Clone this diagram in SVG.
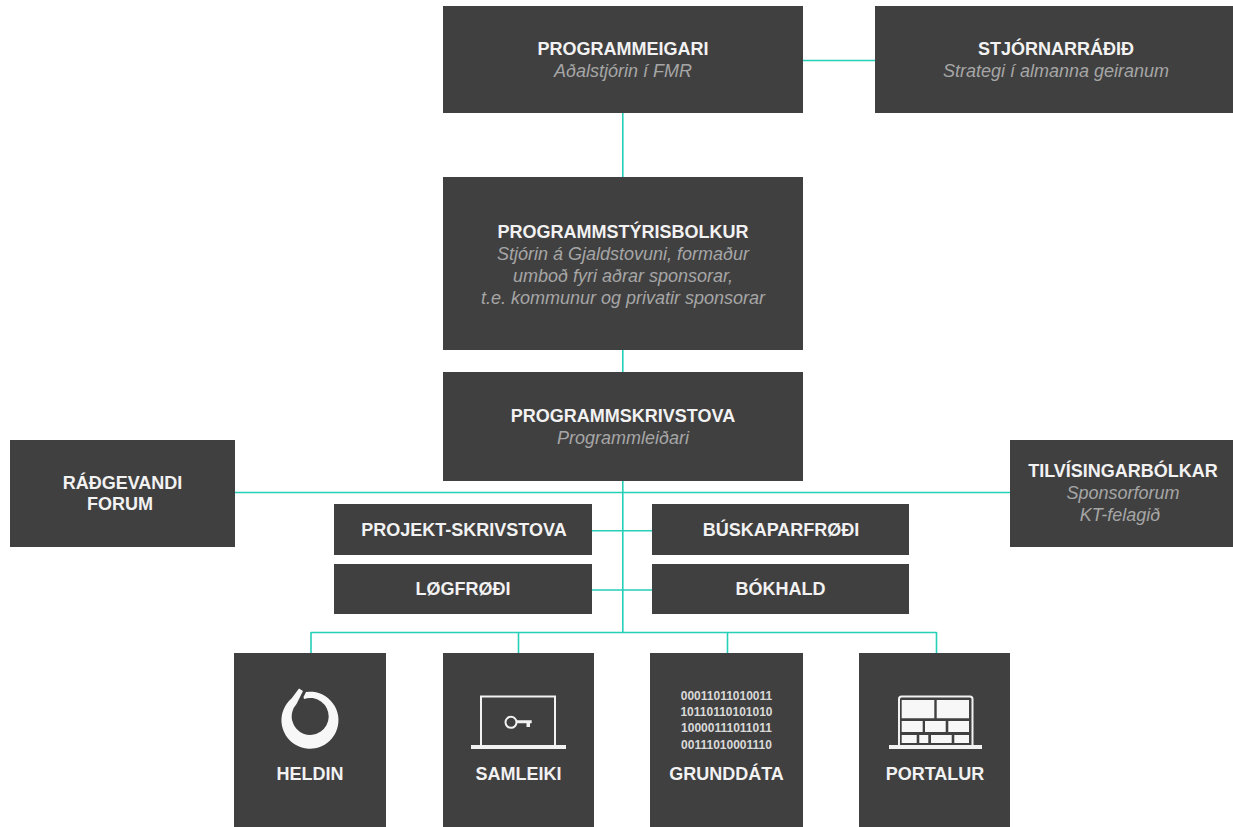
<svg xmlns="http://www.w3.org/2000/svg" width="1233" height="827" viewBox="0 0 1233 827">
<style>
.box{fill:#404040}
.t{font-family:"Liberation Sans",Arial,sans-serif;font-size:18px;font-weight:bold;fill:#f2f2f2;text-anchor:middle}
.s{font-family:"Liberation Sans",Arial,sans-serif;font-size:18px;font-style:italic;fill:#a6a6a6;text-anchor:middle}
.b{font-family:"Liberation Sans",Arial,sans-serif;font-size:12px;font-weight:bold;fill:#d9d9d9;text-anchor:middle}
.c{fill:none;stroke:#25cfb8;stroke-width:1.6}
.i{fill:none;stroke:#f2f2f2;stroke-width:2}
.f{fill:#f2f2f2}
</style>
<rect width="1233" height="827" fill="#fff"/>
<g id="connectors">
<path class="c" d="M803 60.500H875M622.800 113V177M622.800 350V372M622.800 481V632M235 492.500H1010M592 530.800H652M592 590H652M311 632.500H936.500M311 632V653M518.500 632V653M727.500 632V653M936.500 632V653"/>
</g>
<g id="programmeigari"><rect class="box" x="443" y="6" width="360" height="107"/><text class="t" x="623" y="55">PROGRAMMEIGARI</text><text class="s" x="623" y="77">Aðalstjórin í FMR</text></g>
<g id="stjornarradid"><rect class="box" x="875" y="6" width="358" height="107"/><text class="t" x="1056" y="55">STJÓRNARRÁÐIÐ</text><text class="s" x="1056" y="77">Strategi í almanna geiranum</text></g>
<g id="programmstyrisbolkur"><rect class="box" x="443" y="177" width="360" height="173"/><text class="t" x="623" y="238">PROGRAMMSTÝRISBOLKUR</text><text class="s" x="623" y="260">Stjórin á Gjaldstovuni, formaður</text><text class="s" x="623" y="282">umboð fyri aðrar sponsorar,</text><text class="s" x="623" y="304">t.e. kommunur og privatir sponsorar</text></g>
<g id="programmskrivstova"><rect class="box" x="443" y="372" width="360" height="109"/><text class="t" x="623" y="422">PROGRAMMSKRIVSTOVA</text><text class="s" x="623" y="444">Programmleiðari</text></g>
<g id="radgevandi"><rect class="box" x="10" y="440" width="225" height="107"/><text class="t" x="122.500" y="489">RÁÐGEVANDI</text><text class="t" x="120" y="510">FORUM</text></g>
<g id="tilvisingarbolkar"><rect class="box" x="1010" y="440" width="223" height="107"/><text class="t" x="1123" y="477">TILVÍSINGARBÓLKAR</text><text class="s" x="1123" y="499">Sponsorforum</text><text class="s" x="1120" y="521">KT-felagið</text></g>
<g id="projekt"><rect class="box" x="334" y="504" width="258" height="51"/><text class="t" x="464" y="536">PROJEKT-SKRIVSTOVA</text></g>
<g id="buskapar"><rect class="box" x="652" y="504" width="257" height="51"/><text class="t" x="781" y="536">BÚSKAPARFRØÐI</text></g>
<g id="logfrodi"><rect class="box" x="334" y="564" width="258" height="50"/><text class="t" x="463" y="595">LØGFRØÐI</text></g>
<g id="bokhald"><rect class="box" x="652" y="564" width="257" height="50"/><text class="t" x="780.500" y="595">BÓKHALD</text></g>
<g id="heldin"><rect class="box" x="234" y="653" width="152" height="174"/>
<path fill="#f7f7f7" d="M299 688.500L303 691L296.500 704A18.500 18.500 0 1 0 304 699L303.500 697L306 692A28.500 28.500 0 1 1 291.500 698.500Z"/>
<text class="t" x="310" y="780">HELDIN</text></g>
<g id="samleiki"><rect class="box" x="443" y="653" width="151" height="174"/>
<path class="i" d="M481 745V696.500H555V745"/><rect class="f" x="471" y="745" width="95" height="4"/>
<circle class="i" cx="511" cy="722.300" r="5.500"/><path class="f" d="M516 720.300H531.700V723.300H530V727H526.500V723.300H516Z"/>
<text class="t" x="518.500" y="780">SAMLEIKI</text></g>
<g id="grunddata"><rect class="box" x="650" y="653" width="153" height="174"/>
<text class="b" x="726.500" y="700">00011011010011</text><text class="b" x="726.500" y="716">10110110101010</text><text class="b" x="726.500" y="732">10000111011011</text><text class="b" x="726.500" y="749">00111010001110</text>
<text class="t" x="726.500" y="780">GRUNDDÁTA</text></g>
<g id="portalur"><rect class="box" x="859" y="653" width="151" height="174"/>
<path class="i" d="M899 745V699Q899 696.500 901.500 696.500H970Q972.500 696.500 972.500 699V745"/><rect class="f" x="889" y="745" width="93" height="4"/>
<path fill="#f7f7f7" d="M901.700 700H934.300V718.300H901.700ZM936.700 700H969V718.300H936.700ZM901.700 721H922.700V732H901.700ZM925 721H945.700V732H925ZM948.300 721H969V732H948.300ZM901.700 735H916.700V743H901.700ZM919.300 735H928.300V743H919.300ZM931 735H951.700V743H931ZM954.300 735H969V743H954.300Z"/>
<text class="t" x="935" y="780">PORTALUR</text></g>
</svg>
